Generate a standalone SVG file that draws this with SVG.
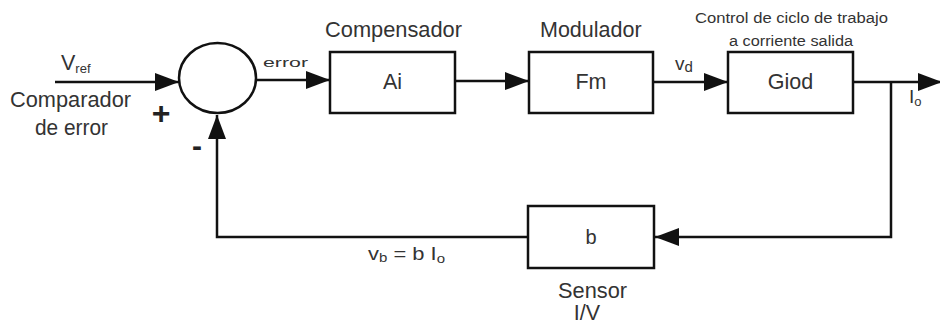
<svg xmlns="http://www.w3.org/2000/svg" width="940" height="326" viewBox="0 0 940 326">
<style>
.blk{fill:#fff;stroke:#111;stroke-width:2.5}
.ln{fill:none;stroke:#111;stroke-width:2.5}
text{font-family:"Liberation Sans",Arial,sans-serif;fill:#333}
.lg{font-size:21.5px}
.md{font-size:19px}
.sm{font-size:13px}
.c{text-anchor:middle}
</style>
<defs>
<marker id="ahb" viewBox="0 0 10 10" refX="10" refY="5" markerWidth="24" markerHeight="18" markerUnits="userSpaceOnUse" orient="auto" preserveAspectRatio="none">
<path d="M0,0 L10,5 L0,10 Z" fill="#111"/>
</marker>
</defs>
<g id="connectors">
<path class="ln" d="M55,82 H179" marker-end="url(#ahb)"/>
<path class="ln" d="M256,80 H330" marker-end="url(#ahb)"/>
<path class="ln" d="M455,81 H529" marker-end="url(#ahb)"/>
<path class="ln" d="M653,82 H728" marker-end="url(#ahb)"/>
<path class="ln" d="M853,82 H942" marker-end="url(#ahb)"/>
<path class="ln" d="M891,82 V237 H655" marker-end="url(#ahb)"/>
<path class="ln" d="M528,237 H217 V115" marker-end="url(#ahb)"/>
</g>
<g id="comparador">
<ellipse class="blk" cx="217.5" cy="78" rx="38.5" ry="35"/>
<text class="lg" x="10" y="107" textLength="121" lengthAdjust="spacingAndGlyphs">Comparador</text>
<text class="lg" x="35" y="135" textLength="73" lengthAdjust="spacingAndGlyphs">de error</text>
<text x="161" y="124" class="c" style="font-size:32px;font-weight:bold;fill:#222">+</text>
<text x="197" y="156" class="c" style="font-size:30px;font-weight:bold;fill:#222">-</text>
</g>
<g id="vref">
<text class="lg" x="61" y="70">V<tspan style="font-size:13px" dy="3">ref</tspan></text>
</g>
<text id="error-label" class="sm" x="263" y="67" textLength="45" lengthAdjust="spacingAndGlyphs">error</text>
<g id="compensador">
<rect class="blk" x="330" y="52" width="125" height="61"/>
<text class="lg c" x="392.5" y="89">Ai</text>
<text class="lg" x="325" y="37" textLength="137" lengthAdjust="spacingAndGlyphs">Compensador</text>
</g>
<g id="modulador">
<rect class="blk" x="529" y="52" width="124" height="61"/>
<text class="lg c" x="591" y="89">Fm</text>
<text class="lg" x="540" y="37">Modulador</text>
</g>
<text id="vd-label" class="md" x="675" y="70">v<tspan style="font-size:15px" dy="2">d</tspan></text>
<g id="giod">
<rect class="blk" x="728" y="52" width="125" height="61"/>
<text class="lg c" x="790.5" y="89">Giod</text>
<text style="font-size:14px" x="695" y="23" textLength="193" lengthAdjust="spacingAndGlyphs">Control de ciclo de trabajo</text>
<text style="font-size:14px" x="729" y="46" textLength="124" lengthAdjust="spacingAndGlyphs">a corriente salida</text>
</g>
<text id="io-label" class="md" x="909" y="103">I<tspan style="font-size:13px" dy="3">o</tspan></text>
<g id="sensor">
<rect class="blk" x="528" y="206" width="126" height="62"/>
<text class="c" style="font-size:20px" x="591" y="244">b</text>
<text class="lg" x="558" y="298" textLength="69" lengthAdjust="spacingAndGlyphs">Sensor</text>
<text class="lg c" x="587" y="320">I/V</text>
</g>
<text id="vb-label" class="md" x="368" y="260" textLength="77" lengthAdjust="spacingAndGlyphs">v<tspan style="font-size:13px" dy="2">b</tspan><tspan dy="-2"> = b I</tspan><tspan style="font-size:13px" dy="3">o</tspan></text>
</svg>
